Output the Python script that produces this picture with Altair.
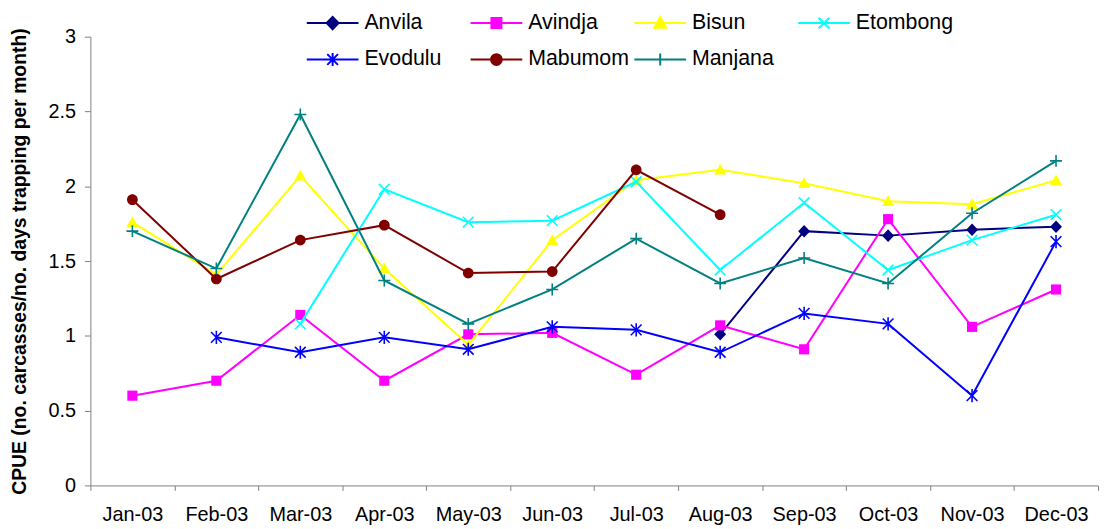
import altair as alt
import pandas as pd

months = ["Jan-03", "Feb-03", "Mar-03", "Apr-03", "May-03", "Jun-03",
          "Jul-03", "Aug-03", "Sep-03", "Oct-03", "Nov-03", "Dec-03"]
sites = ["Anvila", "Avindja", "Bisun", "Etombong", "Evodulu", "Mabumom", "Manjana"]

anvila = [None, None, None, None, None, None, None, 1.01, 1.70, 1.67, 1.71, 1.73]
avindja = [0.60, 0.70, 1.14, 0.70, 1.01, 1.02, 0.74, 1.07, 0.91, 1.78, 1.06, 1.31]
bisun = [1.76, 1.41, 2.07, 1.45, 0.94, 1.64, 2.04, 2.11, 2.02, 1.90, 1.88, 2.04]
etombong = [None, None, 1.08, 1.98, 1.76, 1.77, 2.03, 1.44, 1.89, 1.44, 1.64, 1.81]
evodulu = [None, 0.99, 0.89, 0.99, 0.91, 1.06, 1.04, 0.89, 1.15, 1.08, 0.60, 1.63]
mabumom = [1.91, 1.38, 1.64, 1.74, 1.42, 1.43, 2.11, 1.81, None, None, None, None]
manjana = [1.70, 1.45, 2.48, 1.37, 1.08, 1.31, 1.65, 1.35, 1.52, 1.35, 1.82, 2.17]

series_values = [anvila, avindja, bisun, etombong, evodulu, mabumom, manjana]
colors = ["#000080", "#FF00FF", "#FFFF00", "#00FFFF", "#0000FF", "#800000", "#008080"]

# marker glyphs in unit space [-1, 1]
marker_paths = [
    "M0,-1.05L1,0L0,1.05L-1,0Z",
    "M-0.85,-0.85H0.85V0.85H-0.85Z",
    "M0,-1L1,0.8L-1,0.8Z",
    "M-0.9,-0.9L0.9,0.9M-0.9,0.9L0.9,-0.9",
    "M-0.9,-0.9L0.9,0.9M-0.9,0.9L0.9,-0.9M0,-1.1L0,1.1",
    "M0.9,0A0.9,0.9 0 1,1 -0.9,0A0.9,0.9 0 1,1 0.9,0Z",
    "M-1,0H1M0,-1V1",
]
marker_filled = [True, True, True, False, False, True, False]

# legend glyphs: horizontal line plus a half-scale marker
legend_paths = [
    "M-2.17,0H2.17M0,-0.52L0.5,0L0,0.52L-0.5,0Z",
    "M-2.17,0H2.17M-0.42,-0.42H0.42V0.42H-0.42Z",
    "M-2.17,0H2.17M0,-0.5L0.5,0.4L-0.5,0.4Z",
    "M-2.17,0H2.17M-0.45,-0.45L0.45,0.45M-0.45,0.45L0.45,-0.45",
    "M-2.17,0H2.17M-0.45,-0.45L0.45,0.45M-0.45,0.45L0.45,-0.45M0,-0.55L0,0.55",
    "M-2.17,0H2.17M0.45,0A0.45,0.45 0 1,1 -0.45,0A0.45,0.45 0 1,1 0.45,0Z",
    "M-2.17,0H2.17M0,-0.5V0.5",
]

rows = []
for site, vals in zip(sites, series_values):
    for m, v in zip(months, vals):
        if v is not None:
            rows.append({"site": site, "month": m, "value": v})
df = pd.DataFrame(rows)

FONT = "Liberation Sans"
AXIS_GREY = "#808080"

x_enc = alt.X(
    "month:N",
    sort=months,
    scale=alt.Scale(type="band", domain=months, paddingInner=0, paddingOuter=0),
    axis=alt.Axis(title=None, labelAngle=0, tickBand="extent", tickSize=5,
                  labelPadding=14, labelFont=FONT, labelFontSize=20,
                  labelColor="black", grid=False, domainColor=AXIS_GREY,
                  tickColor=AXIS_GREY, domainWidth=1, tickWidth=1),
)
y_enc = alt.Y(
    "value:Q",
    scale=alt.Scale(domain=[0, 3], nice=False, zero=True),
    axis=alt.Axis(values=[0, 0.5, 1, 1.5, 2, 2.5, 3], format="~g", grid=False,
                  tickSize=6, labelPadding=9, labelFont=FONT, labelFontSize=20,
                  labelColor="black", domainColor=AXIS_GREY, tickColor=AXIS_GREY,
                  domainWidth=1, tickWidth=1,
                  title="CPUE (no. carcasses/no. days trapping per month)",
                  titleFont=FONT, titleFontSize=19.5, titleFontWeight="bold",
                  titleColor="black", titleAngle=-90, titleX=-65, titleY=226,
                  titleAlign="center", titleBaseline="alphabetic"),
)

layers = []
for site, col, path, filled in zip(sites, colors, marker_paths, marker_filled):
    sub = df[df["site"] == site]
    base = alt.Chart(sub).encode(x=x_enc, y=y_enc)
    layers.append(base.mark_line(color=col, strokeWidth=2))
    if filled:
        layers.append(base.mark_point(shape=path, filled=True, fill=col, color=col,
                                      size=144, opacity=1, strokeWidth=0))
    else:
        layers.append(base.mark_point(shape=path, filled=False, color=col,
                                      size=144, opacity=1, strokeWidth=1.6))

leg = alt.Legend(
    title=None, orient="none", legendX=231, legendY=-27, direction="horizontal",
    columns=4, gridAlign="all", columnPadding=0, rowPadding=13, padding=0,
    symbolSize=576, symbolStrokeWidth=2, symbolOpacity=1,
    labelFont=FONT, labelFontSize=21.5, labelColor="black", labelOffset=19,
)
legend_layer = alt.Chart(df).transform_filter("false").mark_point(
    filled=True, size=576, opacity=1, strokeWidth=2
).encode(
    x=x_enc, y=y_enc,
    color=alt.Color("site:N", scale=alt.Scale(domain=sites, range=colors), legend=leg),
    stroke=alt.Stroke("site:N", scale=alt.Scale(domain=sites, range=colors), legend=leg),
    shape=alt.Shape("site:N", scale=alt.Scale(domain=sites, range=legend_paths), legend=leg),
)
layers.append(legend_layer)

chart = alt.layer(*layers).properties(
    width=1015, height=452,
    padding={"left": 83, "top": 27, "right": 2, "bottom": 42},
    autosize=alt.AutoSizeParams(type="none"),
    background="white",
).configure_view(stroke=None)

chart.save("out.html", embed_options={"renderer": "svg", "actions": False})
